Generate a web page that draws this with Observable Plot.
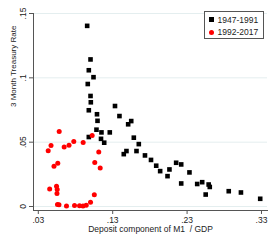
<!DOCTYPE html>
<html>
<head>
<meta charset="utf-8">
<script src="https://cdn.jsdelivr.net/npm/d3@7"></script>
<script src="https://cdn.jsdelivr.net/npm/@observablehq/plot@0.6"></script>
<style>
  html, body { margin: 0; padding: 0; background: #fff; }
  #wrap { position: relative; width: 275px; height: 245px; font-family: "Liberation Sans", Arial, sans-serif; }
  #legend { position: absolute; left: 204px; top: 11px; width: 60px; height: 28px; box-sizing: border-box;
            border: 1px solid #555; background: #fff; font-size: 8.5px; color: #222; }
  .row { position: absolute; left: 0; height: 10px; line-height: 10px; }
  .sw { position: absolute; left: 3.5px; top: 2.5px; width: 5px; height: 5px; }
  .lab { position: absolute; left: 12.5px; top: 0; white-space: nowrap; }
</style>
</head>
<body>
<div id="wrap"></div>
<script>
// 1947-1991: deposit component of M1 / GDP vs 3-month T-bill rate
const earlyX = [0.0957,0.1002,0.0979,0.1042,0.0965,0.1002,0.1006,0.0979,0.1089,0.1331,
                0.1391,0.1096,0.1508,0.1549,0.0979,0.1082,0.1149,0.1261,0.1143,0.1186,
                0.1584,0.1651,0.1449,0.1485,0.1620,0.1734,0.1815,0.1885,0.1938,0.2037,
                0.2063,0.2153,0.2221,0.2221,0.2332,0.2436,0.2503,0.2590,0.2605,0.2550,
                0.2860,0.3024,0.3283];
const earlyY = [0.1404,0.1143,0.1059,0.1005,0.0952,0.0859,0.0810,0.0748,0.0717,0.0781,
                0.0703,0.0666,0.0639,0.0664,0.0540,0.0597,0.0576,0.0576,0.0526,0.0496,
                0.0535,0.0485,0.0407,0.0431,0.0431,0.0397,0.0362,0.0317,0.0275,0.0236,
                0.0288,0.0340,0.0327,0.0179,0.0265,0.0175,0.0189,0.0171,0.0152,0.0093,
                0.0119,0.0109,0.0060];
// 1992-2017
const lateX = [0.0581,0.0471,0.0433,0.0648,0.0713,0.0777,0.0903,0.1024,0.1113,0.1059,
               0.1132,0.0562,0.0511,0.0453,0.0545,0.0554,0.0551,0.1053,0.0558,0.0578,
               0.0679,0.0787,0.0854,0.0901,0.0944,0.1002];
const lateY = [0.0582,0.0475,0.0434,0.0463,0.0477,0.0506,0.0498,0.0551,0.0424,0.0343,
               0.0300,0.0337,0.0313,0.0136,0.0158,0.0132,0.0101,0.0092,0.0016,0.0014,
               0.0004,0.0008,0.0005,0.0004,0.0009,0.0033];

const seriesNames = ["1947-1991", "1992-2017"];
const xTicks = [0.03, 0.13, 0.23, 0.33];
const xTickLabels = [".03", ".13", ".23", ".33"];
const yTicks = [0, 0.05, 0.1, 0.15];
const yTickLabels = ["0", ".05", ".1", ".15"];
const xTitle = "Deposit component of M1\u00a0 / GDP";
const yTitle = "3 Month Treasury Rate";

const early = earlyX.map((x, i) => ({x, y: earlyY[i]}));
const late = lateX.map((x, i) => ({x, y: lateY[i]}));

const font = "'Liberation Sans', Arial, sans-serif";
const chart = Plot.plot({
  width: 275,
  height: 245,
  marginLeft: 33,
  marginRight: 8,
  marginTop: 13,
  marginBottom: 35,
  style: {fontFamily: font, fontSize: "8.5px", color: "#222", background: "transparent"},
  x: {domain: [0.02355, 0.3381]},
  y: {domain: [-0.0031, 0.15]},
  marks: [
    Plot.gridY(yTicks, {stroke: "#e4eeef", strokeOpacity: 1, strokeWidth: 1}),
    Plot.axisX(xTicks, {tickSize: 4, tickPadding: 2, stroke: "#555", fill: "#222",
      tickFormat: (d) => xTickLabels[xTicks.indexOf(d)], label: null}),
    Plot.axisY(yTicks, {tickSize: 4, tickPadding: 4, tickRotate: -90, stroke: "#555", fill: "#222",
      tickFormat: (d) => yTickLabels[yTicks.indexOf(d)], label: null}),
    Plot.frame({anchor: "left", stroke: "#555"}),
    Plot.frame({anchor: "bottom", stroke: "#555"}),
    Plot.dot(early, {x: "x", y: "y", symbol: "square", r: 2.6, fill: "#000", stroke: "none"}),
    Plot.dot(late, {x: "x", y: "y", symbol: "circle", r: 2.5, fill: "#ff0000", stroke: "none"}),
    Plot.text([xTitle], {frameAnchor: "bottom", dy: 19, lineAnchor: "middle", fill: "#222"}),
    Plot.text([yTitle], {frameAnchor: "left", dx: -20, dy: -5, rotate: -90, lineAnchor: "middle",
      fontSize: 8, fill: "#222"})
  ]
});

const wrap = document.getElementById("wrap");
wrap.appendChild(chart);

const legend = document.createElement("div");
legend.id = "legend";
const swatches = [
  {name: seriesNames[0], color: "#000", radius: "0"},
  {name: seriesNames[1], color: "#ff0000", radius: "50%"}
];
swatches.forEach((s, i) => {
  const row = document.createElement("div");
  row.className = "row";
  row.style.top = (2.5 + i * 12.6) + "px";
  const sw = document.createElement("span");
  sw.className = "sw";
  sw.style.background = s.color;
  sw.style.borderRadius = s.radius;
  const lab = document.createElement("span");
  lab.className = "lab";
  lab.textContent = s.name;
  row.appendChild(sw);
  row.appendChild(lab);
  legend.appendChild(row);
});
wrap.appendChild(legend);
</script>
</body>
</html>
